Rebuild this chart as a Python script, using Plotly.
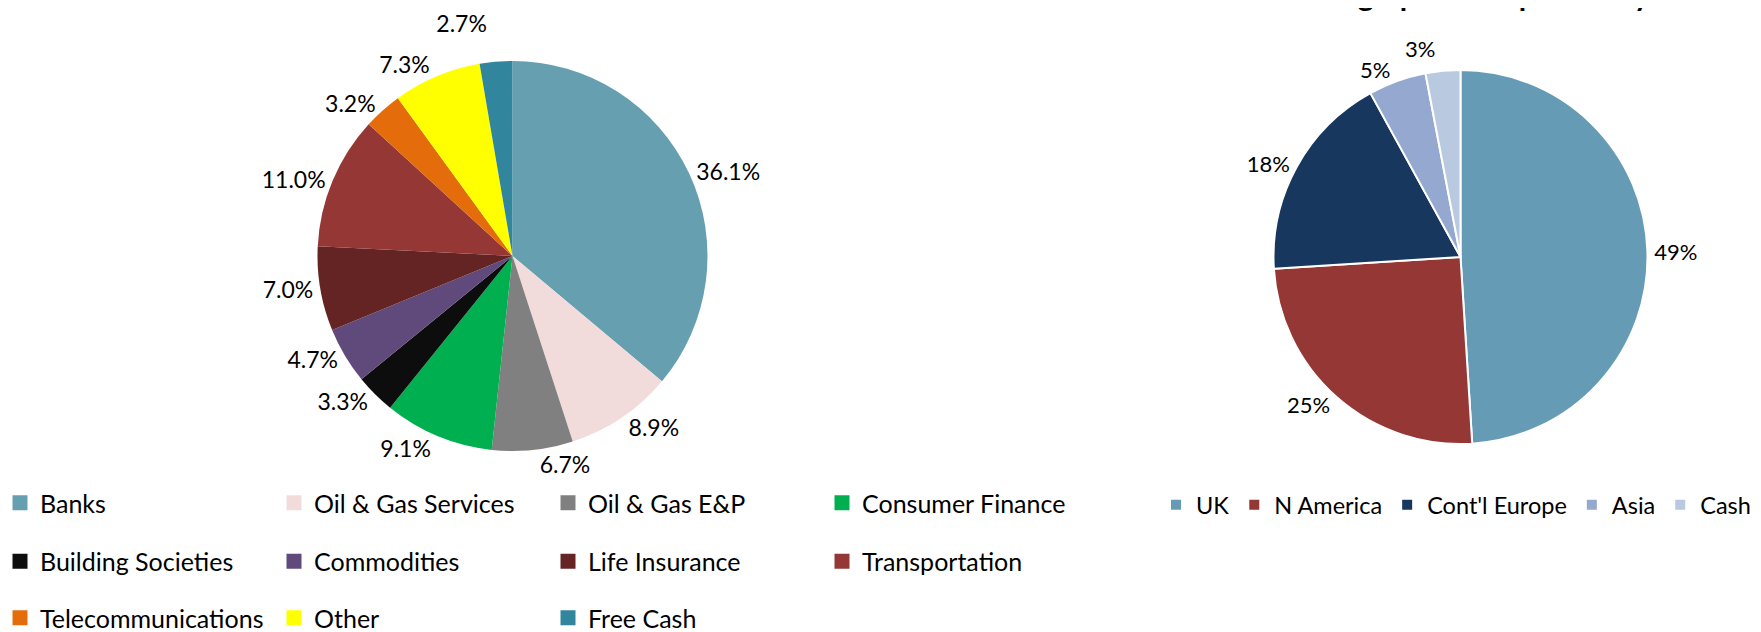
import plotly.graph_objects as go

# ---------------- data ----------------
sector_labels = ["Banks", "Oil & Gas Services", "Oil & Gas E&P", "Consumer Finance",
                 "Building Societies", "Commodities", "Life Insurance", "Transportation",
                 "Telecommunications", "Other", "Free Cash"]
sector_values = [36.1, 8.9, 6.7, 9.1, 3.3, 4.7, 7.0, 11.0, 3.2, 7.3, 2.7]
sector_colors = ["#669FB0", "#F2DCDB", "#808080", "#00B050", "#0D0D0D", "#604A7B",
                 "#632423", "#953735", "#E46C0A", "#FFFF00", "#31859C"]

geo_labels = ["UK", "N America", "Cont'l Europe", "Asia", "Cash"]
geo_values = [49, 25, 18, 5, 3]
geo_colors = ["#669BB5", "#953735", "#17375E", "#95A9D0", "#B9C9E0"]

geo_title = "Geographical Exposure by Domicile"

# ---------------- layout helpers ----------------
# the page body keeps its default 8px margin, so the figure is sized to the
# visible area and all pixel positions below are measured in page pixels
OFF = 8
W, H = 1761 - OFF, 632 - OFF
FONT = "Lato"
TXT = "#000000"
CLEAR = "rgba(0,0,0,0)"


def px_x(v):
    return (v - OFF) / W


def px_y(v):
    return 1 - (v - OFF) / H


def square_domain(cx, cy, r):
    return dict(x=[px_x(cx - r), px_x(cx + r)], y=[px_y(cy + r), px_y(cy - r)])


left_c, left_r = (512.5, 256.0), 195.0
right_c, right_r = (1460.5, 257.0), 187.0

# the label of the last (top) slice is drawn by a transparent, slightly larger
# twin pie so that it sits clear of its neighbour without a leader line
n_left, n_right = len(sector_values), len(geo_values)
left_pos = ["outside"] * (n_left - 1) + ["none"]
left_twin_pos = ["none"] * (n_left - 1) + ["outside"]
right_pos = ["outside"] * (n_right - 1) + ["none"]
right_twin_pos = ["none"] * (n_right - 1) + ["outside"]

fig = go.Figure()

pie_common = dict(sort=False, direction="clockwise", rotation=0, showlegend=False)

# left pie: sector split
fig.add_trace(go.Pie(
    labels=sector_labels, values=sector_values,
    marker=dict(colors=sector_colors, line=dict(width=0)),
    textposition=left_pos, texttemplate="%{value:.1f}%",
    textfont=dict(family=FONT, size=23, color=TXT),
    domain=square_domain(*left_c, left_r), hoverinfo="label+percent", **pie_common,
))
fig.add_trace(go.Pie(
    labels=sector_labels, values=sector_values,
    marker=dict(colors=[CLEAR] * n_left, line=dict(width=0)),
    textposition=left_twin_pos, texttemplate="%{value:.1f}%",
    textfont=dict(family=FONT, size=23, color=TXT),
    domain=square_domain(*left_c, left_r + 25), hoverinfo="skip", **pie_common,
))

# right pie: geographical split
fig.add_trace(go.Pie(
    labels=geo_labels, values=geo_values,
    marker=dict(colors=geo_colors, line=dict(width=2, color="white")),
    textposition=right_pos, texttemplate="%{value:.0f}%",
    textfont=dict(family=FONT, size=22, color=TXT),
    domain=square_domain(*right_c, right_r), hoverinfo="label+percent",
    legend="legend4", **{**pie_common, "showlegend": True},
))
fig.add_trace(go.Pie(
    labels=geo_labels, values=geo_values,
    marker=dict(colors=[CLEAR] * n_right, line=dict(width=0)),
    textposition=right_twin_pos, texttemplate="%{value:.0f}%",
    textfont=dict(family=FONT, size=22, color=TXT),
    domain=square_domain(*right_c, right_r + 9), hoverinfo="skip", **pie_common,
))

# legend entries for the sector pie, laid out in rows of four
rows = [(0, 4, "legend"), (4, 8, "legend2"), (8, 11, "legend3")]
for start, stop, lg in rows:
    for lab, col in zip(sector_labels[start:stop], sector_colors[start:stop]):
        fig.add_trace(go.Scatter(
            x=[None], y=[None], mode="markers", name=lab, legend=lg,
            marker=dict(symbol="square", size=15, color=col), showlegend=True,
            hoverinfo="skip",
        ))

leg_common = dict(orientation="h", bgcolor=CLEAR, borderwidth=0,
                  font=dict(family=FONT, size=25, color=TXT),
                  entrywidthmode="pixels", entrywidth=237, indentation=-8,
                  xanchor="left", yanchor="middle", traceorder="normal")

fig.update_layout(
    width=W, height=H,
    margin=dict(l=0, r=0, t=0, b=0, autoexpand=False),
    paper_bgcolor="white", plot_bgcolor="white",
    showlegend=True,
    xaxis=dict(visible=False), yaxis=dict(visible=False),
    legend=dict(x=0.0, y=px_y(503), **leg_common),
    legend2=dict(x=0.0, y=px_y(561.5), **leg_common),
    legend3=dict(x=0.0, y=px_y(618), **leg_common),
    legend4=dict(orientation="h", bgcolor=CLEAR, borderwidth=0,
                 font=dict(family=FONT, size=23.5, color=TXT),
                 x=px_x(1156), y=px_y(505), xanchor="left", yanchor="middle"),
    font=dict(family=FONT, color=TXT),
    annotations=[dict(text="<b>" + geo_title + "</b>", x=px_x(1301), y=px_y(14),
                      xref="paper", yref="paper", xanchor="left", yanchor="bottom",
                      showarrow=False, font=dict(family=FONT, size=30, color=TXT))],
)

fig.write_html("out.html")
